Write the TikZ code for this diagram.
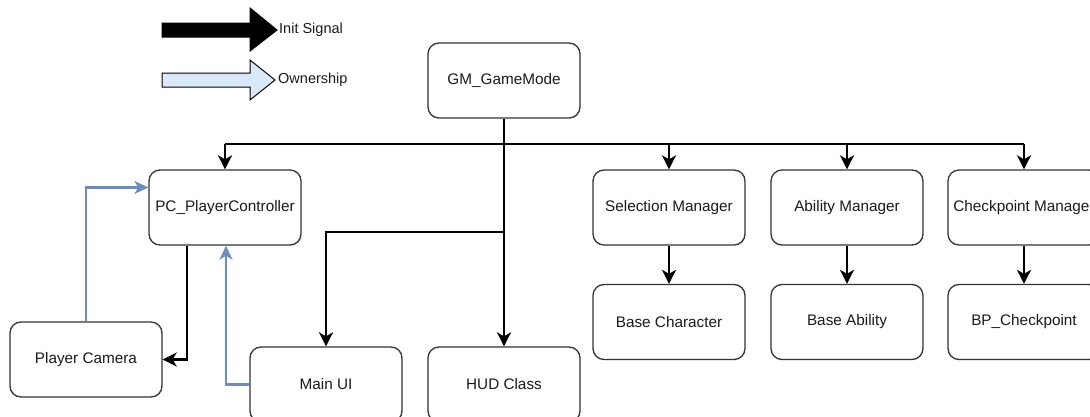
\documentclass[tikz,border=0pt]{standalone}
\usepackage{fontspec}
\setmainfont{Liberation Sans}
\usetikzlibrary{arrows.meta}
\definecolor{txt}{HTML}{1A1A1A}
\definecolor{own}{HTML}{6C8EBF}
\definecolor{ownfill}{HTML}{DAE8FC}
\tikzset{
  box/.style={draw=black!80, line width=1.3pt, rounded corners=11pt, fill=white,
    minimum width=152pt, minimum height=75pt, text=txt, inner sep=0pt,
    font=\fontsize{15.3}{18}\selectfont},
  sig/.style={draw=black, line width=2.6pt, -{Stealth[length=14pt,width=14pt,inset=4pt]}},
  sigline/.style={draw=black, line width=2.6pt},
  ownl/.style={draw=own, line width=2.2pt, -{Stealth[length=14pt,width=13pt,inset=4pt]}},
  legtext/.style={anchor=west, inner sep=0pt, text=txt, font=\fontsize{14.5}{17}\selectfont},
  legarrow/.style={draw=black, line width=1pt, line join=miter}
}
\begin{document}
\begin{tikzpicture}[x=1pt,y=-1pt]
\useasboundingbox (0,0) rectangle (1090,416);
\begin{scope}
\clip (0,0) rectangle (1090,416);

% boxes
\node[box] (gm) at (504,80.5) {GM\_GameMode};
\node[box] (pc) at (225,207.5) {PC\_PlayerController};
\node[box] (sel) at (669,207.5) {Selection Manager};
\node[box] (abl) at (847,207.5) {Ability Manager};
\node[box] (chk) at (1024,207.5) {Checkpoint Manager};
\node[box] (bch) at (669,322) {Base Character};
\node[box] (bab) at (847,322) {Base Ability};
\node[box] (bpc) at (1024,322) {BP\_Checkpoint};
\node[box] (cam) at (86,359.5) {Player Camera};
\node[box] (mui) at (326,384.5) {Main UI};
\node[box] (hud) at (504,384.5) {HUD Class};

% init signals from the game mode
\coordinate (j) at (504,144);
\draw[sigline] (gm.south) -- (j);
\draw[sigline] (pc.north |- j) -- (chk.north |- j);
\draw[sig] (pc.north |- j) -- (pc.north);
\draw[sig] (sel.north |- j) -- (sel.north);
\draw[sig] (abl.north |- j) -- (abl.north);
\draw[sig] (chk.north |- j) -- (chk.north);
\draw[sig] (j) -- (hud.north);
\coordinate (k) at (504,232);
\draw[sig] (k) -| (mui.north);
\draw[sig] (sel) -- (bch);
\draw[sig] (abl) -- (bab);
\draw[sig] (chk) -- (bpc);
\draw[sig] ([xshift=-38pt]pc.south) |- (cam.east);

% ownership links
\draw[ownl] (cam.north) |- ([yshift=20pt]pc.west);
\draw[ownl] (mui.west) -| ([xshift=1pt]pc.south);
\end{scope}

% legend
\draw[legarrow, fill=black] (162,23) -- (250,23) -- (250,8) -- (277,30)
  -- (250,51) -- (250,37) -- (162,37) -- cycle;
\node[legtext] (lt1) at (279,30) {Init Signal};
\draw[legarrow, fill=ownfill] (162,73) -- (250,73) -- (250,60) -- (275,80)
  -- (250,100) -- (250,87) -- (162,87) -- cycle;
\node[legtext] (lt2) at (278,80) {Ownership};
\end{tikzpicture}
\end{document}
